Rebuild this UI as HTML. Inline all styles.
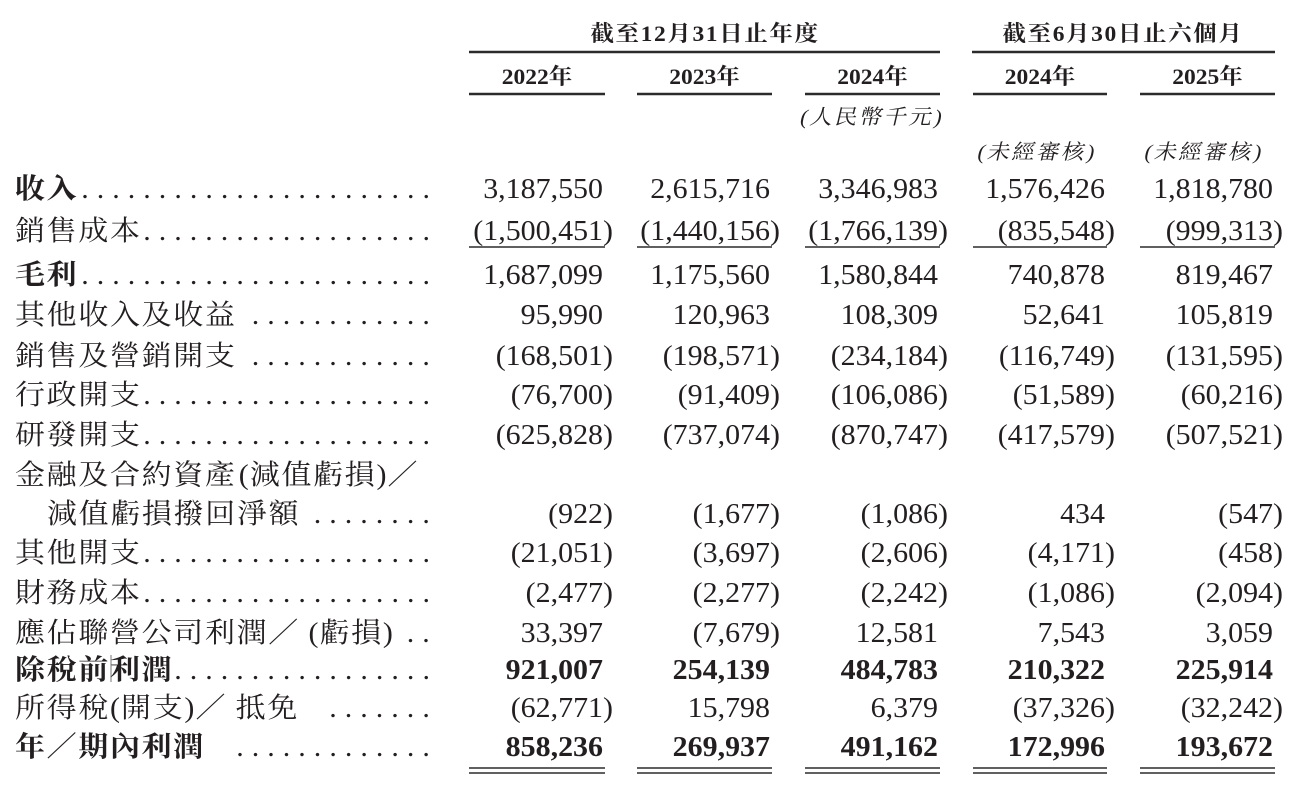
<!DOCTYPE html>
<html><head><meta charset="utf-8">
<style>
html,body{margin:0;padding:0;background:#fff;width:1290px;height:786px;overflow:hidden}
svg{display:block}
.n{font-family:"Liberation Serif",serif;font-size:28px;fill:#231f20}
.b{font-weight:bold}
.l{font-family:"Liberation Serif","Noto Serif CJK SC","Noto Serif CJK TC",serif;font-size:28px;letter-spacing:1.6px;fill:#231f20}
.p{letter-spacing:1px}
.d{font-family:"Liberation Serif",serif;font-size:28px;letter-spacing:7.5px;fill:#231f20}
.h{font-family:"Liberation Serif","Noto Serif CJK SC",serif;font-size:22px;font-weight:bold;letter-spacing:1.5px;fill:#231f20}
.y{font-family:"Liberation Serif","Noto Serif CJK SC",serif;font-size:22px;font-weight:bold;fill:#231f20}
.i{font-family:"Liberation Serif","Noto Serif CJK SC",serif;font-size:21px;letter-spacing:2.2px;fill:#231f20}
</style></head>
<body>
<svg width="1290" height="786" viewBox="0 0 1290 786" xmlns="http://www.w3.org/2000/svg">
<g fill="#2b2b2b">
<rect x="469" y="50.75" width="471" height="2.5"/>
<rect x="972" y="50.75" width="303" height="2.5"/>
<rect x="469" y="92.75" width="136" height="2.5"/>
<rect x="637" y="92.75" width="135" height="2.5"/>
<rect x="805" y="92.75" width="135" height="2.5"/>
<rect x="973" y="92.75" width="134" height="2.5"/>
<rect x="1140" y="92.75" width="135" height="2.5"/>
<rect x="469" y="246.25" width="136" height="1.5"/>
<rect x="637" y="246.25" width="135" height="1.5"/>
<rect x="805" y="246.25" width="135" height="1.5"/>
<rect x="973" y="246.25" width="134" height="1.5"/>
<rect x="1140" y="246.25" width="135" height="1.5"/>
<rect x="469" y="767.25" width="136" height="1.5"/>
<rect x="637" y="767.25" width="135" height="1.5"/>
<rect x="805" y="767.25" width="135" height="1.5"/>
<rect x="973" y="767.25" width="134" height="1.5"/>
<rect x="1140" y="767.25" width="135" height="1.5"/>
<rect x="469" y="772.25" width="136" height="1.5"/>
<rect x="637" y="772.25" width="135" height="1.5"/>
<rect x="805" y="772.25" width="135" height="1.5"/>
<rect x="973" y="772.25" width="134" height="1.5"/>
<rect x="1140" y="772.25" width="135" height="1.5"/>
</g>
<line x1="111" y1="655" x2="111" y2="682" stroke="#777" stroke-width="1"/>

<text class="h" text-anchor="middle" transform="translate(705 41) scale(1.07 1)">截至12月31日止年度</text>
<text class="h" text-anchor="middle" transform="translate(1123 41) scale(1.07 1)">截至6月30日止六個月</text>
<text class="y" text-anchor="middle" transform="translate(537 84) scale(1.07 1)">2022年</text>
<text class="y" text-anchor="middle" transform="translate(704.5 84) scale(1.07 1)">2023年</text>
<text class="y" text-anchor="middle" transform="translate(872.5 84) scale(1.07 1)">2024年</text>
<text class="y" text-anchor="middle" transform="translate(1040 84) scale(1.07 1)">2024年</text>
<text class="y" text-anchor="middle" transform="translate(1207.5 84) scale(1.07 1)">2025年</text>
<text class="i" text-anchor="middle" transform="translate(871 124) scale(1.07 1) skewX(-12)">(人民幣千元)</text>
<text class="i" text-anchor="middle" transform="translate(1036 159) scale(1.07 1) skewX(-12)">(未經審核)</text>
<text class="i" text-anchor="middle" transform="translate(1203 159) scale(1.07 1) skewX(-12)">(未經審核)</text>

<text class="l b" transform="translate(15 198) scale(1.07 1)">收入</text>
<text class="l" transform="translate(15 240) scale(1.07 1)">銷售成本</text>
<text class="l b" transform="translate(15 284) scale(1.07 1)">毛利</text>
<text class="l" transform="translate(15 324) scale(1.07 1)">其他收入及收益</text>
<text class="l" transform="translate(15 365) scale(1.07 1)">銷售及營銷開支</text>
<text class="l" transform="translate(15 404) scale(1.07 1)">行政開支</text>
<text class="l" transform="translate(15 444) scale(1.07 1)">研發開支</text>
<text class="l" transform="translate(15 484) scale(1.07 1)">金融及合約資產<tspan class="p" dx="2">(</tspan>減值虧損<tspan class="p">)</tspan>／</text>
<text class="l" transform="translate(47 523) scale(1.07 1)">減值虧損撥回淨額</text>
<text class="l" transform="translate(15 562) scale(1.07 1)">其他開支</text>
<text class="l" transform="translate(15 602) scale(1.07 1)">財務成本</text>
<text class="l" transform="translate(15 642) scale(1.07 1)">應佔聯營公司利潤／<tspan class="p" dx="8">(</tspan>虧損<tspan class="p">)</tspan></text>
<text class="l b" transform="translate(15 679) scale(1.07 1)">除稅前利潤</text>
<text class="l" transform="translate(15 717) scale(1.07 1)">所得稅<tspan class="p">(</tspan>開支<tspan class="p">)</tspan>／<tspan dx="8">抵免</tspan></text>
<text class="l b" transform="translate(15 756) scale(1.07 1)">年／期內利潤</text>

<text class="d" transform="translate(81.25 198) scale(1.07 1)">.......................</text>
<text class="d" transform="translate(143.25 240) scale(1.07 1)">...................</text>
<text class="d" transform="translate(81.25 284) scale(1.07 1)">.......................</text>
<text class="d" transform="translate(251.75 324) scale(1.07 1)">............</text>
<text class="d" transform="translate(251.75 365) scale(1.07 1)">............</text>
<text class="d" transform="translate(143.25 404) scale(1.07 1)">...................</text>
<text class="d" transform="translate(143.25 444) scale(1.07 1)">...................</text>
<text class="d" transform="translate(313.75 523) scale(1.07 1)">........</text>
<text class="d" transform="translate(143.25 562) scale(1.07 1)">...................</text>
<text class="d" transform="translate(143.25 602) scale(1.07 1)">...................</text>
<text class="d" transform="translate(406.75 642) scale(1.07 1)">..</text>
<text class="d" transform="translate(174.25 679) scale(1.07 1)">.................</text>
<text class="d" transform="translate(329.25 717) scale(1.07 1)">.......</text>
<text class="d" transform="translate(236.25 756) scale(1.07 1)">.............</text>

<g class="n" text-anchor="end">
<text transform="translate(603 198) scale(1.07 1)">3,187,550</text>
<text transform="translate(770 198) scale(1.07 1)">2,615,716</text>
<text transform="translate(938 198) scale(1.07 1)">3,346,983</text>
<text transform="translate(1105 198) scale(1.07 1)">1,576,426</text>
<text transform="translate(1273 198) scale(1.07 1)">1,818,780</text>
<text transform="translate(613 240) scale(1.07 1)">(1,500,451)</text>
<text transform="translate(780 240) scale(1.07 1)">(1,440,156)</text>
<text transform="translate(948 240) scale(1.07 1)">(1,766,139)</text>
<text transform="translate(1115 240) scale(1.07 1)">(835,548)</text>
<text transform="translate(1283 240) scale(1.07 1)">(999,313)</text>
<text transform="translate(603 284) scale(1.07 1)">1,687,099</text>
<text transform="translate(770 284) scale(1.07 1)">1,175,560</text>
<text transform="translate(938 284) scale(1.07 1)">1,580,844</text>
<text transform="translate(1105 284) scale(1.07 1)">740,878</text>
<text transform="translate(1273 284) scale(1.07 1)">819,467</text>
<text transform="translate(603 324) scale(1.07 1)">95,990</text>
<text transform="translate(770 324) scale(1.07 1)">120,963</text>
<text transform="translate(938 324) scale(1.07 1)">108,309</text>
<text transform="translate(1105 324) scale(1.07 1)">52,641</text>
<text transform="translate(1273 324) scale(1.07 1)">105,819</text>
<text transform="translate(613 365) scale(1.07 1)">(168,501)</text>
<text transform="translate(780 365) scale(1.07 1)">(198,571)</text>
<text transform="translate(948 365) scale(1.07 1)">(234,184)</text>
<text transform="translate(1115 365) scale(1.07 1)">(116,749)</text>
<text transform="translate(1283 365) scale(1.07 1)">(131,595)</text>
<text transform="translate(613 404) scale(1.07 1)">(76,700)</text>
<text transform="translate(780 404) scale(1.07 1)">(91,409)</text>
<text transform="translate(948 404) scale(1.07 1)">(106,086)</text>
<text transform="translate(1115 404) scale(1.07 1)">(51,589)</text>
<text transform="translate(1283 404) scale(1.07 1)">(60,216)</text>
<text transform="translate(613 444) scale(1.07 1)">(625,828)</text>
<text transform="translate(780 444) scale(1.07 1)">(737,074)</text>
<text transform="translate(948 444) scale(1.07 1)">(870,747)</text>
<text transform="translate(1115 444) scale(1.07 1)">(417,579)</text>
<text transform="translate(1283 444) scale(1.07 1)">(507,521)</text>
<text transform="translate(613 523) scale(1.07 1)">(922)</text>
<text transform="translate(780 523) scale(1.07 1)">(1,677)</text>
<text transform="translate(948 523) scale(1.07 1)">(1,086)</text>
<text transform="translate(1105 523) scale(1.07 1)">434</text>
<text transform="translate(1283 523) scale(1.07 1)">(547)</text>
<text transform="translate(613 562) scale(1.07 1)">(21,051)</text>
<text transform="translate(780 562) scale(1.07 1)">(3,697)</text>
<text transform="translate(948 562) scale(1.07 1)">(2,606)</text>
<text transform="translate(1115 562) scale(1.07 1)">(4,171)</text>
<text transform="translate(1283 562) scale(1.07 1)">(458)</text>
<text transform="translate(613 602) scale(1.07 1)">(2,477)</text>
<text transform="translate(780 602) scale(1.07 1)">(2,277)</text>
<text transform="translate(948 602) scale(1.07 1)">(2,242)</text>
<text transform="translate(1115 602) scale(1.07 1)">(1,086)</text>
<text transform="translate(1283 602) scale(1.07 1)">(2,094)</text>
<text transform="translate(603 642) scale(1.07 1)">33,397</text>
<text transform="translate(780 642) scale(1.07 1)">(7,679)</text>
<text transform="translate(938 642) scale(1.07 1)">12,581</text>
<text transform="translate(1105 642) scale(1.07 1)">7,543</text>
<text transform="translate(1273 642) scale(1.07 1)">3,059</text>
<text class="b" transform="translate(603 679) scale(1.07 1)">921,007</text>
<text class="b" transform="translate(770 679) scale(1.07 1)">254,139</text>
<text class="b" transform="translate(938 679) scale(1.07 1)">484,783</text>
<text class="b" transform="translate(1105 679) scale(1.07 1)">210,322</text>
<text class="b" transform="translate(1273 679) scale(1.07 1)">225,914</text>
<text transform="translate(613 717) scale(1.07 1)">(62,771)</text>
<text transform="translate(770 717) scale(1.07 1)">15,798</text>
<text transform="translate(938 717) scale(1.07 1)">6,379</text>
<text transform="translate(1115 717) scale(1.07 1)">(37,326)</text>
<text transform="translate(1283 717) scale(1.07 1)">(32,242)</text>
<text class="b" transform="translate(603 756) scale(1.07 1)">858,236</text>
<text class="b" transform="translate(770 756) scale(1.07 1)">269,937</text>
<text class="b" transform="translate(938 756) scale(1.07 1)">491,162</text>
<text class="b" transform="translate(1105 756) scale(1.07 1)">172,996</text>
<text class="b" transform="translate(1273 756) scale(1.07 1)">193,672</text>
</g>
</svg>
</body></html>
